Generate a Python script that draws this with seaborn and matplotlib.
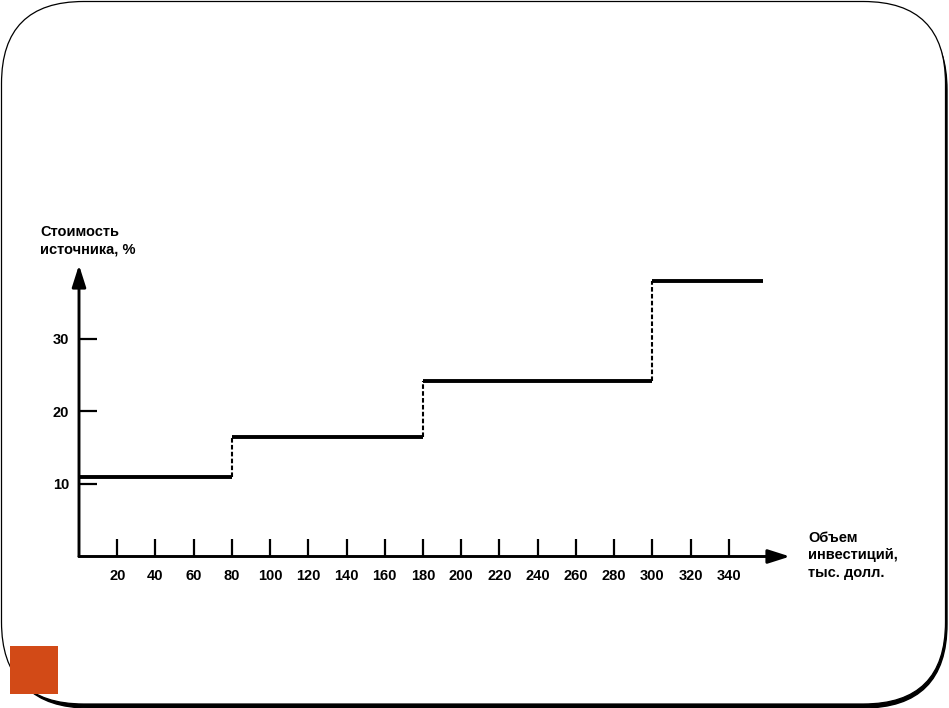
import pandas as pd
import matplotlib
matplotlib.use('Agg')
import matplotlib.pyplot as plt
import matplotlib.patches as mpatches
import seaborn as sns

# step levels: cost of capital source vs volume of investment
breaks = [0, 80, 180, 300, 358]
cost = [11, 16.5, 24.2, 38]
x_ticks = [20, 40, 60, 80, 100, 120, 140, 160, 180, 200, 220, 240, 260, 280, 300, 320, 340]
y_ticks = [10, 20, 30]

sns.set_theme(style='white')
plt.rcParams['font.family'] = ['Liberation Sans', 'DejaVu Sans']

fig = plt.figure(figsize=(9.49, 7.08), dpi=100)

# slide frame with a shadow on the lower right
shadow = mpatches.FancyBboxPatch((0.05, 0.0), 9.42, 7.02, boxstyle='round,pad=0,rounding_size=0.84',
                                 transform=fig.dpi_scale_trans, facecolor='black', edgecolor='black',
                                 lw=1, zorder=0)
frame = mpatches.FancyBboxPatch((0.015, 0.04), 9.44, 7.025, boxstyle='round,pad=0,rounding_size=0.82',
                                transform=fig.dpi_scale_trans, facecolor='white', edgecolor='black',
                                lw=0.9, zorder=1)
fig.patches.extend([shadow, frame])
fig.patches.append(mpatches.Rectangle((0.10, 0.14), 0.48, 0.48, transform=fig.dpi_scale_trans,
                                      facecolor='#D24A17', edgecolor='none', zorder=2))

# axes placed so that origin sits at pixel (79, 556)
x0, x1 = 0, 372
y0, y1 = 0, 40.2
left, right = 79 / 949, 790 / 949
bottom, top = (708 - 556.5) / 708, (708 - 265) / 708
ax = fig.add_axes([left, bottom, right - left, top - bottom])
ax.patch.set_alpha(0)
ax.set_zorder(3)

rows = []
for i, c in enumerate(cost):
    rows.append({'x': breaks[i], 'y': c, 'seg': i})
    rows.append({'x': breaks[i + 1], 'y': c, 'seg': i})
df = pd.DataFrame(rows)

sns.lineplot(data=df, x='x', y='y', units='seg', estimator=None, color='black', lw=2.8, ax=ax,
             solid_capstyle='butt')
ax.vlines(breaks[1:-1], cost[:-1], cost[1:], colors='black', linestyles=(0, (2.2, 1.1)), lw=1.5)

ax.set_xlim(x0, x1)
ax.set_ylim(y0, y1)
for s in ax.spines.values():
    s.set_visible(False)

# axis arrows
for tip in [(x1, 0), (0, y1)]:
    ax.annotate('', xy=tip, xytext=(0, 0), annotation_clip=False,
                arrowprops=dict(arrowstyle='-|>,head_length=1.1,head_width=0.35', lw=2.1, color='black',
                                shrinkA=0, shrinkB=0))

ax.set_xticks(x_ticks)
ax.set_yticks(y_ticks)
ax.tick_params(axis='both', direction='in', length=13, width=1.6, color='black',
               labelsize=10.5, labelcolor='black')
ax.tick_params(axis='x', pad=9, bottom=True)
ax.tick_params(axis='y', pad=7, left=True)
for lab in ax.get_xticklabels() + ax.get_yticklabels():
    lab.set_fontweight('bold')
ax.set_xlabel('')
ax.set_ylabel('')

fig.text(40 / 949, 1 - 225 / 708, 'Стоимость\nисточника, %', fontsize=10.5, fontweight='bold',
         color='black', va='top', ha='left', linespacing=1.3)
fig.text(808 / 949, 1 - 531 / 708, 'Объем\nинвестиций,\nтыс. долл.', fontsize=10.5, fontweight='bold',
         color='black', va='top', ha='left', linespacing=1.3)

fig.savefig('out.png', dpi=100)
